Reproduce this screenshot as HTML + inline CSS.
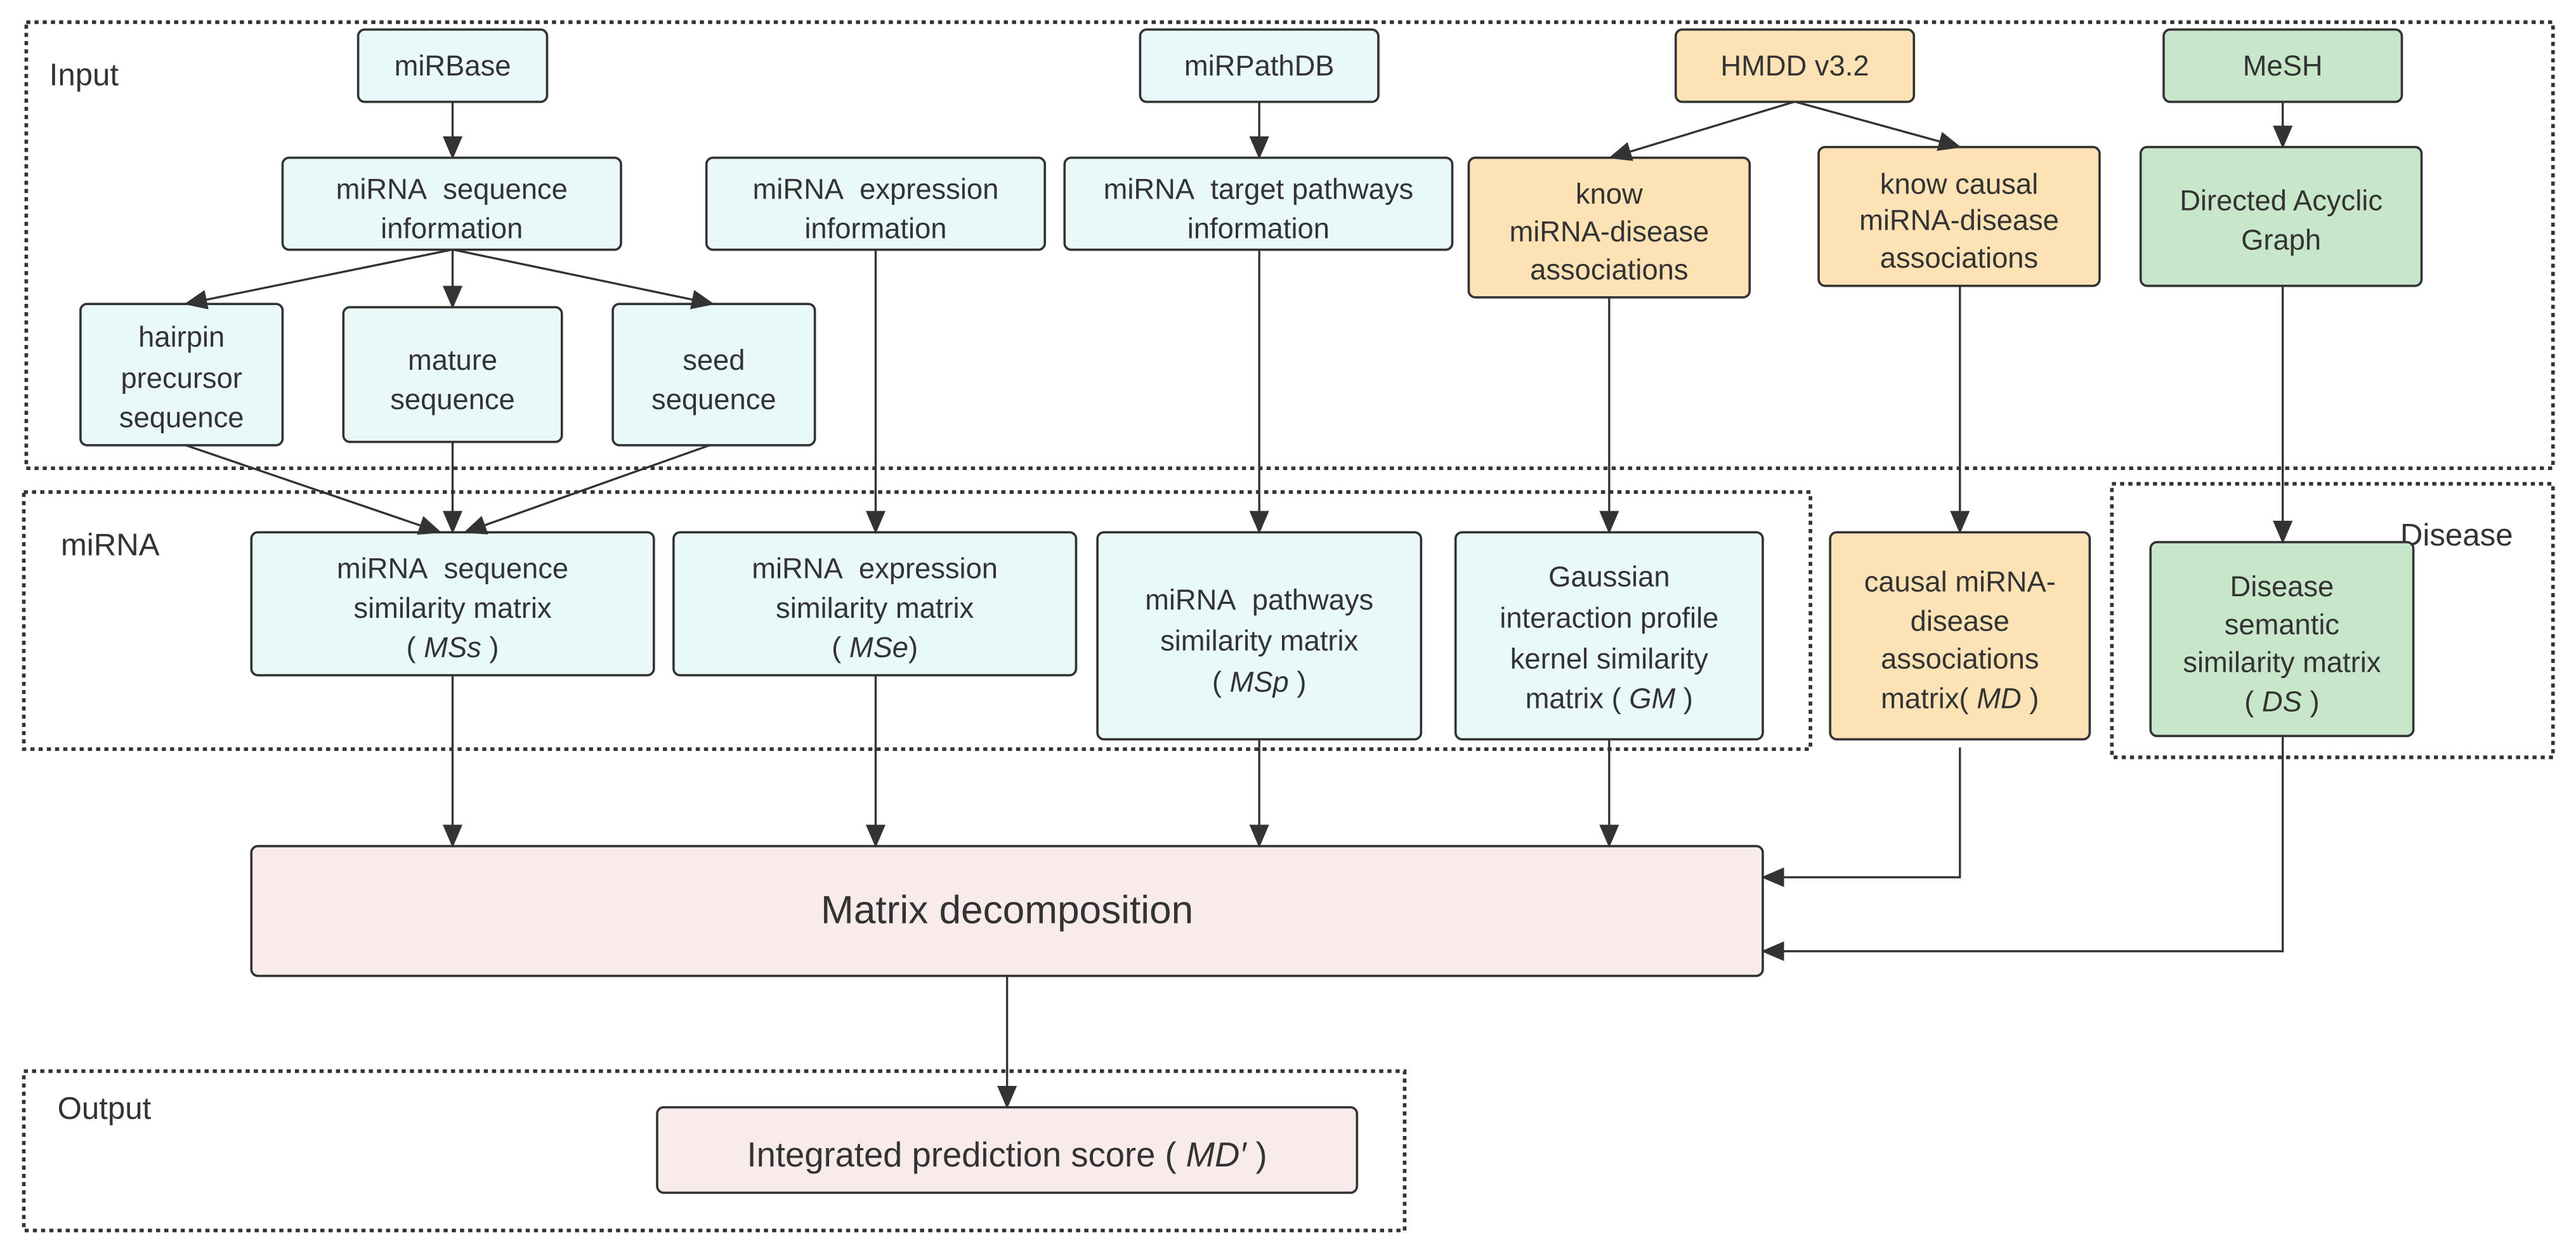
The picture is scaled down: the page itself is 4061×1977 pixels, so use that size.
<!DOCTYPE html>
<html><head><meta charset="utf-8"><style>html,body{margin:0;padding:0;background:#fff}svg{display:block}</style></head>
<body>
<svg width="4061" height="1977" viewBox="0 0 1568 763.3" preserveAspectRatio="none" xmlns="http://www.w3.org/2000/svg" font-family="Liberation Sans, Arial, sans-serif" fill="#333">
<defs>
<marker id="b" markerWidth="14" markerHeight="12" refX="13" refY="6" orient="auto" markerUnits="userSpaceOnUse"><path d="M0,0 L14,6 L0,12 z" fill="#333"/></marker>
</defs>
<g fill="none" stroke="#333" stroke-width="2.2" stroke-dasharray="2.5,2.5">
<rect x="16" y="13.5" width="1538" height="271.5"/>
<rect x="14.5" y="299.5" width="1087.5" height="156.5"/>
<rect x="1285.5" y="294.5" width="268.5" height="166.5"/>
<rect x="14.5" y="652" width="840.5" height="97"/>
</g>
<g font-size="19" fill="#333"><text x="30" y="52">Input</text><text x="37" y="338">miRNA</text><text x="1461" y="332">Disease</text><text x="35" y="681">Output</text></g>
<g stroke="#333" stroke-width="1.4">
<rect x="218" y="18" width="115" height="44" rx="4" fill="#e9f8f9"/>
<rect x="172" y="96" width="206" height="56" rx="4" fill="#e9f8f9"/>
<rect x="430" y="96" width="206" height="56" rx="4" fill="#e9f8f9"/>
<rect x="694" y="18" width="145" height="44" rx="4" fill="#e9f8f9"/>
<rect x="648" y="96" width="236" height="56" rx="4" fill="#e9f8f9"/>
<rect x="49" y="185" width="123" height="86" rx="4" fill="#e9f8f9"/>
<rect x="209" y="187" width="133" height="82" rx="4" fill="#e9f8f9"/>
<rect x="373" y="185" width="123" height="86" rx="4" fill="#e9f8f9"/>
<rect x="1020" y="18" width="145" height="44" rx="4" fill="#fde2b5"/>
<rect x="894" y="96" width="171" height="85" rx="4" fill="#fde2b5"/>
<rect x="1107" y="89.5" width="171" height="84.5" rx="4" fill="#fde2b5"/>
<rect x="1317" y="18" width="145" height="44" rx="4" fill="#c8e6c9"/>
<rect x="1303" y="89.5" width="171" height="84.5" rx="4" fill="#c8e6c9"/>
<rect x="153" y="324" width="245" height="87" rx="4" fill="#e9f8f9"/>
<rect x="410" y="324" width="245" height="87" rx="4" fill="#e9f8f9"/>
<rect x="668" y="324" width="197" height="126" rx="4" fill="#e9f8f9"/>
<rect x="886" y="324" width="187" height="126" rx="4" fill="#e9f8f9"/>
<rect x="1114" y="324" width="158" height="126" rx="4" fill="#fde2b5"/>
<rect x="1309" y="330" width="160" height="118" rx="4" fill="#c8e6c9"/>
<rect x="153" y="515" width="920" height="79" rx="4" fill="#f9ebec"/>
<rect x="400" y="674" width="426" height="52" rx="4" fill="#f9ebec"/>
</g>
<g stroke="#333" stroke-width="1.3" fill="none" marker-end="url(#b)">
<line x1="275.5" y1="62" x2="275.5" y2="96"/>
<line x1="275" y1="152" x2="113" y2="185"/>
<line x1="275.5" y1="152" x2="275.5" y2="187"/>
<line x1="276" y1="152" x2="434" y2="185"/>
<line x1="113" y1="271" x2="268" y2="324"/>
<line x1="275.5" y1="269" x2="275.5" y2="324"/>
<line x1="432" y1="271" x2="283" y2="324"/>
<line x1="533" y1="152" x2="533" y2="324"/>
<line x1="766.5" y1="62" x2="766.5" y2="96"/>
<line x1="766.5" y1="152" x2="766.5" y2="324"/>
<line x1="1092" y1="62" x2="980" y2="96"/>
<line x1="1093" y1="62" x2="1193" y2="89.5"/>
<line x1="979.5" y1="181" x2="979.5" y2="324"/>
<line x1="1193" y1="174" x2="1193" y2="324"/>
<line x1="1389.5" y1="62" x2="1389.5" y2="89.5"/>
<line x1="1389.5" y1="174" x2="1389.5" y2="330"/>
<line x1="275.5" y1="411" x2="275.5" y2="515"/>
<line x1="533" y1="411" x2="533" y2="515"/>
<line x1="766.5" y1="450" x2="766.5" y2="515"/>
<line x1="979.5" y1="450" x2="979.5" y2="515"/>
<polyline points="1193,455 1193,534 1073,534"/>
<polyline points="1389.5,448 1389.5,579 1073,579"/>
<line x1="613" y1="594" x2="613" y2="674"/>
</g>
<g font-size="17.5" text-anchor="middle" fill="#333">
<text x="275.5" y="46">miRBase</text>
<text x="766.5" y="46">miRPathDB</text>
<text x="1092.5" y="46">HMDD v3.2</text>
<text x="1389.5" y="46">MeSH</text>
<text x="275" y="121">miRNA&#160;&#160;sequence</text><text x="275" y="145">information</text>
<text x="533" y="121">miRNA&#160;&#160;expression</text><text x="533" y="145">information</text>
<text x="766" y="121">miRNA&#160;&#160;target pathways</text><text x="766" y="145">information</text>
<text x="110.5" y="211">hairpin</text><text x="110.5" y="236">precursor</text><text x="110.5" y="260">sequence</text>
<text x="275.5" y="225">mature</text><text x="275.5" y="249">sequence</text>
<text x="434.5" y="225">seed</text><text x="434.5" y="249">sequence</text>
<text x="979.5" y="124">know</text><text x="979.5" y="147">miRNA-disease</text><text x="979.5" y="170">associations</text>
<text x="1192.5" y="118">know causal</text><text x="1192.5" y="140">miRNA-disease</text><text x="1192.5" y="163">associations</text>
<text x="1388.5" y="128">Directed Acyclic</text><text x="1388.5" y="152">Graph</text>
<text x="275.5" y="352">miRNA&#160;&#160;sequence</text><text x="275.5" y="376">similarity matrix</text><text x="275.5" y="400">( <tspan font-style="italic">MSs</tspan> )</text>
<text x="532.5" y="352">miRNA&#160;&#160;expression</text><text x="532.5" y="376">similarity matrix</text><text x="532.5" y="400">( <tspan font-style="italic">MSe</tspan>)</text>
<text x="766.5" y="371">miRNA&#160;&#160;pathways</text><text x="766.5" y="396">similarity matrix</text><text x="766.5" y="421">( <tspan font-style="italic">MSp</tspan> )</text>
<text x="979.5" y="357">Gaussian</text><text x="979.5" y="382">interaction profile</text><text x="979.5" y="407">kernel similarity</text><text x="979.5" y="431">matrix ( <tspan font-style="italic">GM</tspan> )</text>
<text x="1193" y="360">causal miRNA-</text><text x="1193" y="384">disease</text><text x="1193" y="407">associations</text><text x="1193" y="431">matrix( <tspan font-style="italic">MD</tspan> )</text>
<text x="1389" y="363">Disease</text><text x="1389" y="386">semantic</text><text x="1389" y="409">similarity matrix</text><text x="1389" y="433">( <tspan font-style="italic">DS</tspan> )</text>
<text x="613" y="562" font-size="24">Matrix decomposition</text>
<text x="613" y="710" font-size="21">Integrated prediction score ( <tspan font-style="italic">MD′</tspan> )</text>
</g>
</svg>
</body></html>
